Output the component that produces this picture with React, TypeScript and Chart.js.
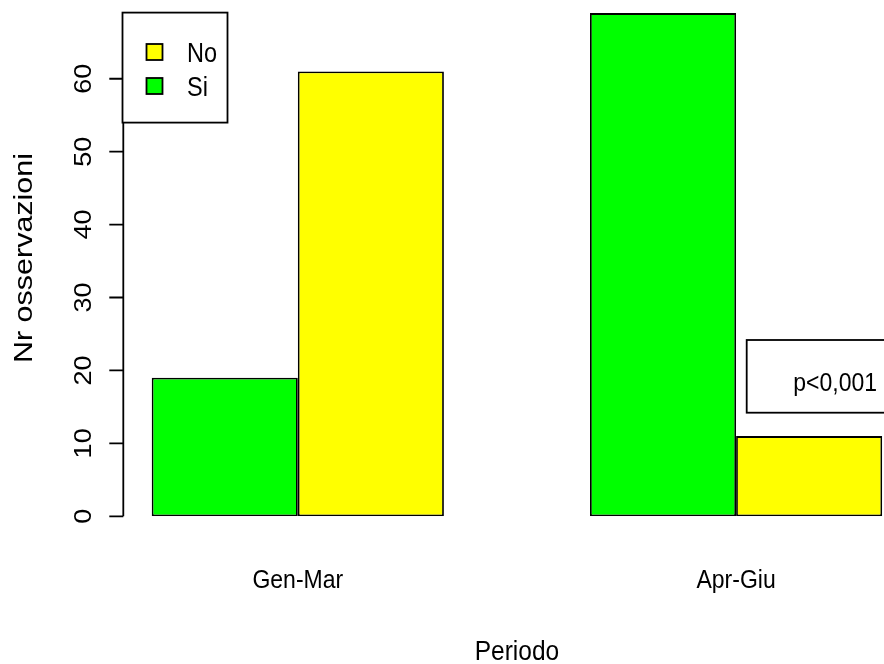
import { useEffect, useRef } from "react";
import { Chart, registerables } from "chart.js";

Chart.register(...registerables);

// data
const periods = ["Gen-Mar", "Apr-Giu"];
const periodPos = [2, 5]; // group centres on barplot's x scale (bars 1-3 and 4-6)
const siCounts = [19, 69];
const noCounts = [61, 11];
const yTicks = [0, 10, 20, 30, 40, 50, 60];
const legendLabels = ["No", "Si"];
const legendColors = ["#FFFF00", "#00FF00"];
const pText = "p<0,001";
const xTitle = "Periodo";
const yTitle = "Nr osservazioni";

const FONT = '"Liberation Sans", Arial, sans-serif';
const VS = 1.15; // the source image is a bit stretched vertically
const LW = 1.8;

function drawText(
  ctx: CanvasRenderingContext2D,
  s: string,
  x: number,
  y: number,
  size: number,
  align: CanvasTextAlign,
  rotate = false,
) {
  ctx.save();
  ctx.translate(x, y);
  ctx.scale(1, VS);
  if (rotate) ctx.rotate(-Math.PI / 2);
  ctx.font = `${size}px ${FONT}`;
  ctx.textAlign = align;
  ctx.textBaseline = "alphabetic";
  ctx.fillStyle = "#000";
  ctx.fillText(s, 0, 0);
  ctx.restore();
}

const baseGraphics = {
  id: "baseGraphics",
  afterDraw(chart: Chart) {
    const { ctx, chartArea } = chart;
    const x = chart.scales.x;
    const y = chart.scales.y;
    ctx.save();
    ctx.strokeStyle = "#000";
    ctx.lineWidth = LW;

    // y axis, R style: line from first to last tick, ticks outward
    const ax = chartArea.left + 0.8;
    ctx.beginPath();
    ctx.moveTo(ax, y.getPixelForValue(yTicks[0]));
    ctx.lineTo(ax, y.getPixelForValue(yTicks[yTicks.length - 1]));
    yTicks.forEach((v) => {
      const py = y.getPixelForValue(v);
      ctx.moveTo(ax, py);
      ctx.lineTo(ax - 14, py);
    });
    ctx.stroke();
    yTicks.forEach((v) => {
      drawText(ctx, String(v), 90.5, y.getPixelForValue(v), 23.5, "center", true);
    });

    // group labels + titles
    periods.forEach((p, i) => {
      drawText(ctx, p, x.getPixelForValue(periodPos[i]), 588, 23, "center");
    });
    drawText(ctx, xTitle, (chartArea.left + chartArea.right) / 2, 660, 24.5, "center");
    drawText(ctx, yTitle, 32, 258, 26.5, "center", true);

    // legend (topleft)
    const lx = chartArea.left;
    const ly = chartArea.top - 0.5;
    ctx.fillStyle = "#fff";
    ctx.fillRect(lx, ly, 105, 110);
    ctx.strokeRect(lx, ly, 105, 110);
    legendLabels.forEach((lab, i) => {
      const cy = 52.5 + i * 34;
      ctx.fillStyle = legendColors[i];
      ctx.fillRect(146.5, cy - 8.5, 16, 16);
      ctx.strokeRect(146.5, cy - 8.5, 16, 16);
      drawText(ctx, lab, 187, cy + 9.5, 23.5, "left");
    });

    // p-value box
    ctx.fillStyle = "#fff";
    ctx.fillRect(746.7, 340, 200, 72.7);
    ctx.strokeRect(746.7, 340, 200, 72.7);
    drawText(ctx, pText, 877, 391, 23, "right");

    ctx.restore();
  },
};

function BarPlot() {
  const ref = useRef<HTMLCanvasElement | null>(null);
  const chartRef = useRef<Chart | null>(null);

  useEffect(() => {
    if (!ref.current) return;
    chartRef.current?.destroy();
    chartRef.current = new Chart(ref.current, {
      type: "bar",
      data: {
        datasets: [
          {
            label: "Si",
            data: periodPos.map((p, i) => ({ x: p, y: siCounts[i] })),
            backgroundColor: "#00FF00",
            borderColor: "#000",
            borderWidth: LW,
            borderSkipped: false,
          },
          {
            label: "No",
            data: periodPos.map((p, i) => ({ x: p, y: noCounts[i] })),
            backgroundColor: "#FFFF00",
            borderColor: "#000",
            borderWidth: LW,
            borderSkipped: false,
          },
        ],
      },
      options: {
        responsive: false,
        animation: false,
        events: [],
        categoryPercentage: 2 / 3,
        barPercentage: 1,
        layout: { padding: { left: 122.5, right: 8.6, top: 13.1, bottom: 147.7 } },
        plugins: { legend: { display: false }, tooltip: { enabled: false } },
        scales: {
          x: {
            type: "linear",
            display: false,
            offset: false,
            min: 0.8,
            max: 6.2,
            afterBuildTicks: (scale) => {
              scale.ticks = periodPos.map((v) => ({ value: v }));
            },
          },
          y: { type: "linear", display: false, min: 0, max: 69 },
        },
      },
      plugins: [baseGraphics],
    });
    return () => {
      chartRef.current?.destroy();
      chartRef.current = null;
    };
  }, []);

  return (
    <div
      style={{
        position: "fixed",
        left: 0,
        top: 0,
        width: 884,
        height: 664,
        overflow: "hidden",
        background: "#fff",
      }}
    >
      <canvas
        ref={ref}
        width={920}
        height={664}
        style={{ width: 920, height: 664, display: "block" }}
        aria-label="Nr osservazioni per periodo"
      />
    </div>
  );
}

export default function App() {
  return <BarPlot />;
}
